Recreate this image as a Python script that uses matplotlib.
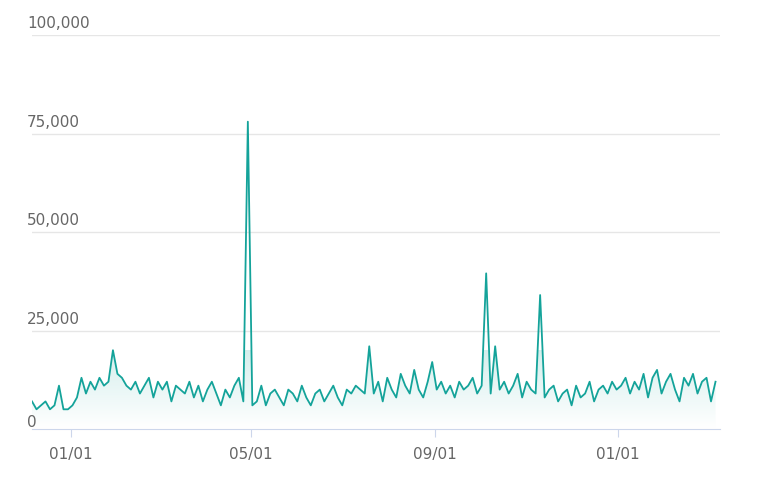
import matplotlib
matplotlib.use("Agg")
import matplotlib.pyplot as plt
import matplotlib.dates as mdates
import matplotlib.transforms as mtrans
import pandas as pd
import numpy as np

values_k = [7,5,6,7,5,6,11,5,5,
            6,8,13,9,12,10,13,11,12,
            20,14,13,11,10,12,9,
            11,13,8,12,10,12,7,11,10,9,12,8,11,7,10,12,9,6,10,8,11,13,7,
            78,
            6,7,11,6,9,10,8,6,10,9,7,11,8,6,9,10,7,9,11,8,6,10,9,11,10,9,
            21,
            9,12,7,13,10,8,14,11,9,15,10,8,12,
            17,
            10,12,9,11,8,12,10,11,13,9,11,
            39.5,9,21,
            10,12,9,11,14,8,12,10,9,
            34,
            8,10,11,7,9,10,6,11,8,9,12,7,10,11,9,12,10,11,13,9,12,10,14,8,13,15,9,12,14,10,7,13,11,14,9,12,13,7,12]
values = [v*1000 for v in values_k]
dates = pd.date_range("2022-12-06", periods=len(values), freq="3D")
xticks = pd.to_datetime(["2023-01-01","2023-05-01","2023-09-01","2024-01-01"])
yticks = [0, 25000, 50000, 75000, 100000]
ylabels = ["0", "25,000", "50,000", "75,000", "100,000"]

fig = plt.figure(figsize=(7.58, 5.02), dpi=100)
ax = fig.add_axes([32/758, 1-430/502, (720-32)/758, (430-36)/502])
col = "#14a39a"
ax.plot(dates, values, color=col, lw=1.3)
grad = np.linspace(0.18, 0.0, 256).reshape(-1, 1)
cmap = matplotlib.colors.LinearSegmentedColormap.from_list("g", ["#ffffff", col])
ymaxfill = 20000
im = ax.imshow(grad, aspect="auto", cmap=cmap, vmin=0, vmax=1,
               extent=[mdates.date2num(dates[0]), mdates.date2num(dates[-1]), 0, ymaxfill],
               origin="upper", zorder=0)
poly = ax.fill_between(dates, values, 0, color="none")
clip = poly.get_paths()[0]
im.set_clip_path(clip, transform=ax.transData)
ax.set_ylim(0, 100000)
for y in yticks[1:]:
    ax.axhline(y, color="#e6e6e6", lw=1, zorder=-1)
ax.set_yticks([])
tr = mtrans.blended_transform_factory(fig.transFigure, ax.transData)
for y, l in zip(yticks, ylabels):
    ax.text(27/758, y + (1200 if y > 0 else 0), l, transform=tr, ha="left", va="bottom",
            fontsize=11, color="#666666")
ax.set_xticks(xticks)
ax.set_xticklabels(["01/01", "05/01", "09/01", "01/01"], fontsize=11, color="#666666")
ax.tick_params(axis="x", length=6, color="#ccd6eb", pad=6)
for s in ["top", "right", "left"]:
    ax.spines[s].set_visible(False)
ax.spines["bottom"].set_color("#ccd6eb")
ax.set_xlim(dates[0], dates[0] + pd.Timedelta(days=459))
fig.savefig("out.png", dpi=100)
